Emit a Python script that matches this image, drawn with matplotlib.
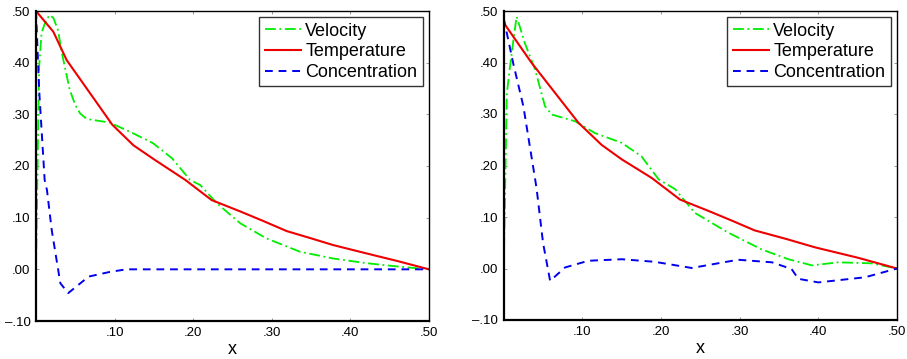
import matplotlib
matplotlib.use("Agg")
import matplotlib.pyplot as plt
from matplotlib.ticker import FixedLocator, FuncFormatter

plt.rcParams['font.family'] = ['Liberation Sans', 'DejaVu Sans']

# ---------------- Left panel data ----------------
L_temp_x = [0.0, 0.022, 0.039, 0.097, 0.124, 0.151, 0.19, 0.2235, 0.26, 0.29, 0.319, 0.35, 0.378, 0.42, 0.46, 0.5]
L_temp_y = [0.50, 0.46, 0.405, 0.28, 0.24, 0.212, 0.173, 0.134, 0.112, 0.093, 0.074, 0.06, 0.047, 0.031, 0.016, 0.0]

L_vel_x = [0.0, 0.002, 0.004, 0.007, 0.011, 0.017, 0.022, 0.028, 0.033, 0.043, 0.05, 0.056, 0.062, 0.069, 0.094, 0.124, 0.149, 0.173, 0.196, 0.209, 0.23, 0.26, 0.293, 0.336, 0.378, 0.42, 0.463, 0.5]
L_vel_y = [0.0, 0.2, 0.392, 0.457, 0.475, 0.492, 0.487, 0.463, 0.418, 0.347, 0.318, 0.302, 0.294, 0.29, 0.284, 0.263, 0.244, 0.215, 0.173, 0.163, 0.128, 0.089, 0.06, 0.034, 0.021, 0.012, 0.005, 0.0]

L_con_x = [0.0, 0.004, 0.011, 0.014, 0.02, 0.031, 0.041, 0.067, 0.094, 0.115, 0.2, 0.3, 0.4, 0.5]
L_con_y = [0.50, 0.347, 0.173, 0.153, 0.076, -0.027, -0.046, -0.014, -0.005, 0.0, 0.0, 0.0, 0.0, 0.0]

# ---------------- Right panel data ----------------
R_temp_x = [0.0, 0.0356, 0.095, 0.1245, 0.15, 0.188, 0.224, 0.26, 0.29, 0.319, 0.36, 0.396, 0.45, 0.5]
R_temp_y = [0.477, 0.399, 0.283, 0.24, 0.212, 0.176, 0.134, 0.112, 0.093, 0.074, 0.057, 0.041, 0.021, 0.0]

R_vel_x = [0.0, 0.002, 0.004, 0.008, 0.014, 0.0165, 0.027, 0.04, 0.0525, 0.061, 0.0906, 0.116, 0.15, 0.175, 0.197, 0.218, 0.243, 0.285, 0.328, 0.362, 0.392, 0.425, 0.468, 0.5]
R_vel_y = [0.0, 0.17, 0.34, 0.392, 0.463, 0.489, 0.437, 0.386, 0.315, 0.299, 0.286, 0.263, 0.244, 0.218, 0.173, 0.154, 0.108, 0.07, 0.037, 0.018, 0.006, 0.012, 0.01, 0.0]

R_con_x = [0.0, 0.012, 0.025, 0.04, 0.042, 0.05, 0.059, 0.078, 0.1075, 0.15, 0.192, 0.239, 0.298, 0.341, 0.366, 0.3745, 0.4, 0.4595, 0.5]
R_con_y = [0.486, 0.399, 0.315, 0.173, 0.153, 0.05, -0.024, 0.002, 0.015, 0.018, 0.013, 0.001, 0.017, 0.012, -0.001, -0.02, -0.027, -0.017, 0.0]

x_ticks = [0.10, 0.20, 0.30, 0.40, 0.50]
y_ticks = [-0.10, 0.00, 0.10, 0.20, 0.30, 0.40, 0.50]
series_labels = ["Velocity", "Temperature", "Concentration"]
x_label = "x"


def fmt(v, pos=None):
    s = "%.2f" % v
    if s.startswith("-0"):
        return "\u2013" + s[2:]
    if s.startswith("0"):
        return s[1:]
    return s


fig = plt.figure(figsize=(9.07, 3.59), dpi=100)
ax1 = fig.add_axes([36 / 907, 38 / 359, 393 / 907, 310 / 359])
ax2 = fig.add_axes([503.7 / 907, 39 / 359, 393.3 / 907, 309 / 359])

panels = [
    (ax1, (L_vel_x, L_vel_y), (L_temp_x, L_temp_y), (L_con_x, L_con_y)),
    (ax2, (R_vel_x, R_vel_y), (R_temp_x, R_temp_y), (R_con_x, R_con_y)),
]

for ax, vel, temp, con in panels:
    ax.plot(vel[0], vel[1], color="#00ee00", linestyle=(0, (6, 2, 1, 2)), lw=1.3, label=series_labels[0])
    ax.plot(temp[0], temp[1], color="#ee0000", linestyle="-", lw=1.5, label=series_labels[1])
    ax.plot(con[0], con[1], color="#0000ee", linestyle=(0, (4, 3)), lw=1.4, label=series_labels[2])
    ax.set_xlim(0, 0.5)
    ax.set_ylim(-0.1, 0.5)
    ax.xaxis.set_major_locator(FixedLocator(x_ticks))
    ax.yaxis.set_major_locator(FixedLocator(y_ticks))
    ax.xaxis.set_major_formatter(FuncFormatter(fmt))
    ax.yaxis.set_major_formatter(FuncFormatter(fmt))
    ax.tick_params(direction="in", length=2, width=0.6, colors="#888888", labelcolor="black",
                   labelsize=9.5, top=True, right=True, pad=4)
    for side in ["left", "bottom"]:
        ax.spines[side].set_linewidth(1.6)
        ax.spines[side].set_color("black")
    for side in ["top", "right"]:
        ax.spines[side].set_linewidth(1.0)
        ax.spines[side].set_color("black")
    ax.set_xlabel(x_label, fontsize=13, labelpad=2)
    leg = ax.legend(loc="upper right", fontsize=13, frameon=True, fancybox=False,
                    edgecolor="black", handlelength=2.0, handletextpad=0.25,
                    labelspacing=0.2, borderpad=0.3, borderaxespad=0.35)
    leg.get_frame().set_linewidth(1.0)

fig.savefig("out.png", dpi=100)
